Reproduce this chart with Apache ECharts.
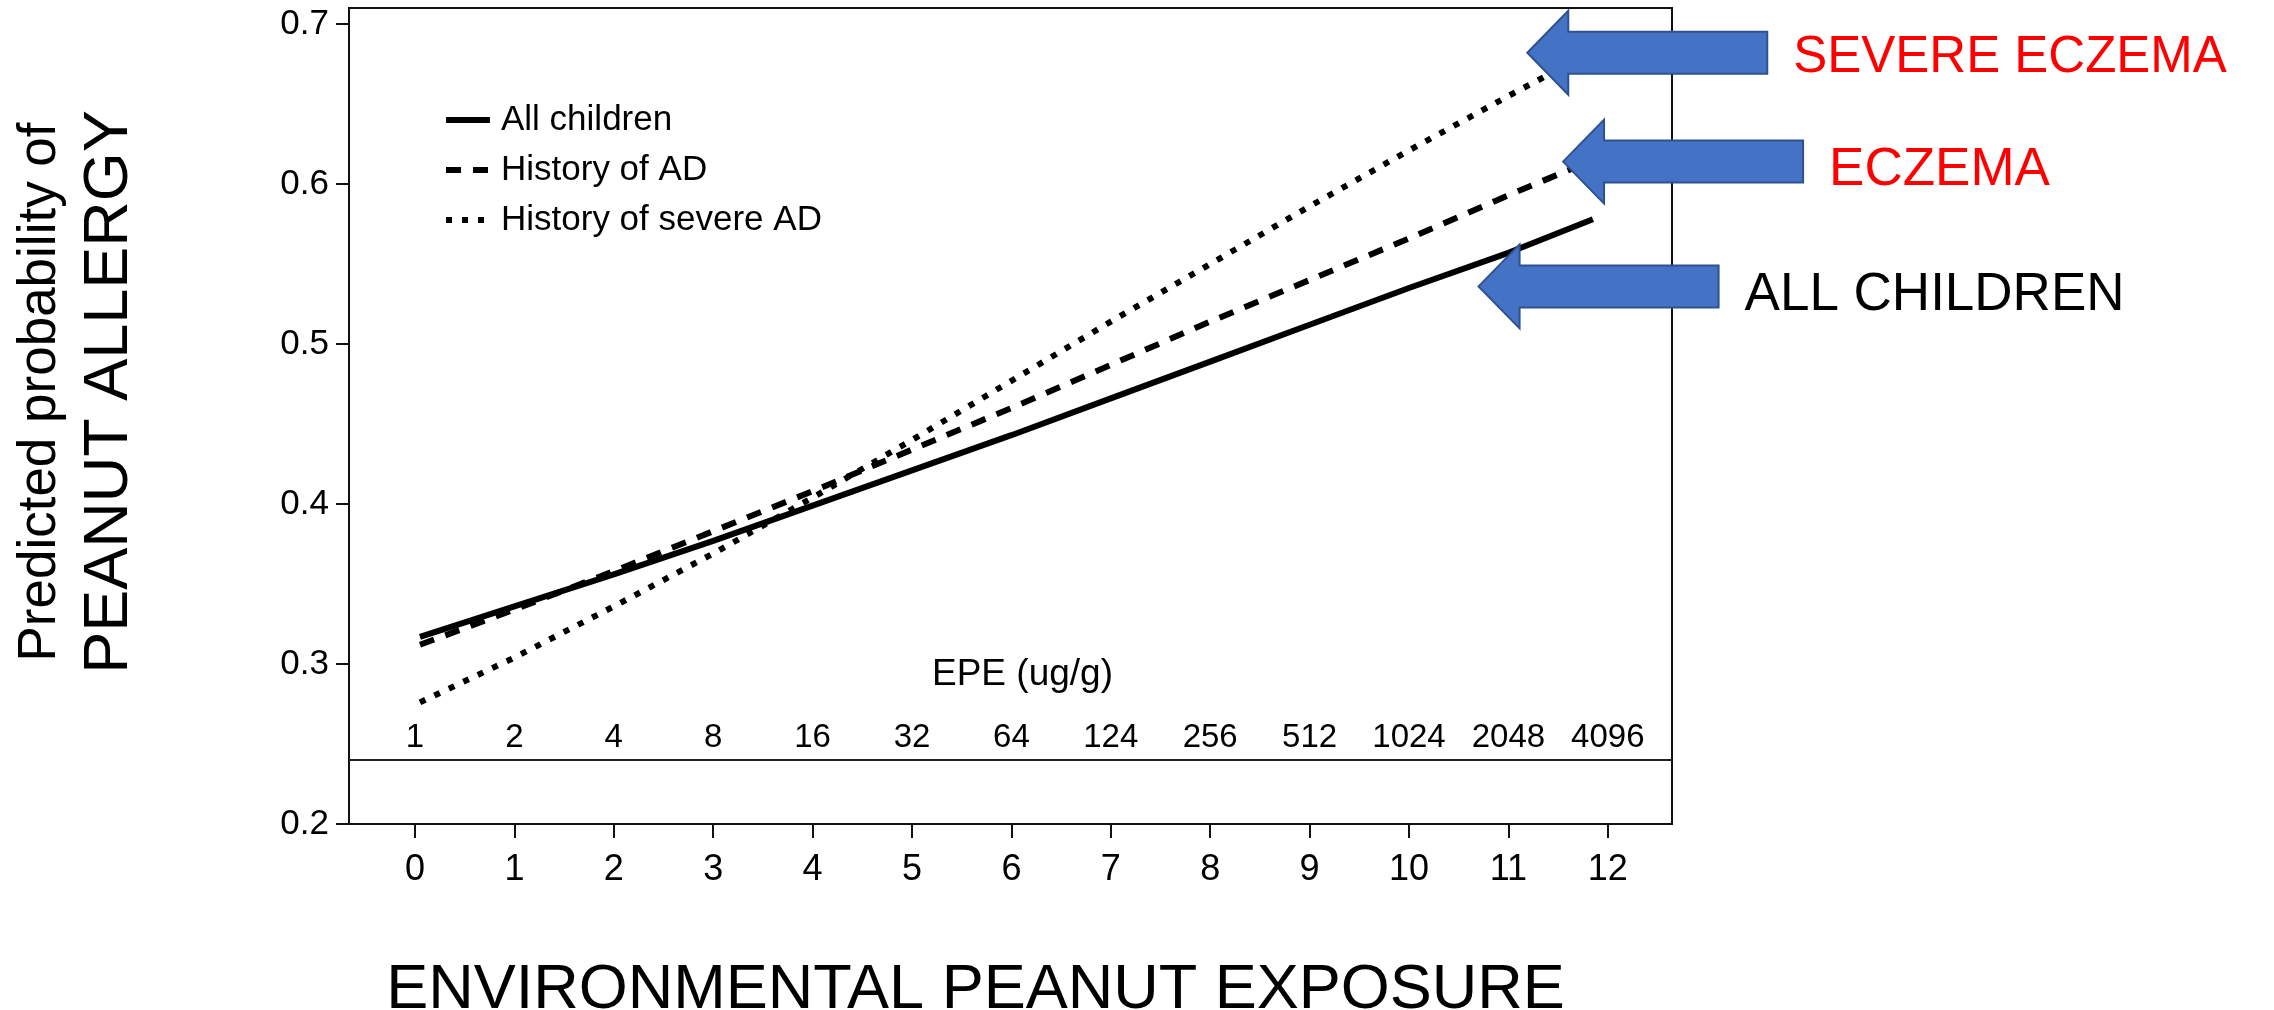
<!DOCTYPE html>
<html><head><meta charset="utf-8">
<script src="https://cdn.jsdelivr.net/npm/echarts@6/dist/echarts.min.js"></script>
<style>html,body{margin:0;padding:0;background:#fff}#c{width:2274px;height:1010px}</style>
</head><body><div id="c"></div>
<script>
// ---- data ----
const exposure = [0.05, 1, 2, 3, 4, 5, 6, 7, 8, 9, 10, 11, 11.85];
const allChildren = [0.317, 0.336, 0.356, 0.377, 0.399, 0.421, 0.443, 0.466, 0.489, 0.512, 0.535, 0.557, 0.578];
const historyAD  = [0.312, 0.334, 0.358, 0.383, 0.408, 0.434, 0.460, 0.487, 0.514, 0.540, 0.566, 0.593, 0.615];
const severeAD   = [0.276, 0.304, 0.336, 0.369, 0.404, 0.440, 0.477, 0.514, 0.550, 0.586, 0.621, 0.655, 0.683];
const xTicks = [0, 1, 2, 3, 4, 5, 6, 7, 8, 9, 10, 11, 12];
const epeLabels = ['1', '2', '4', '8', '16', '32', '64', '124', '256', '512', '1024', '2048', '4096'];
const yTicks = [0.2, 0.3, 0.4, 0.5, 0.6, 0.7];
const seriesNames = ['All children', 'History of AD', 'History of severe AD'];
const calloutLabels = ['SEVERE ECZEMA', 'ECZEMA', 'ALL CHILDREN'];
const calloutColors = ['#FF0000', '#FF0000', '#000000'];
const calloutTips = [[11.19, 0.682], [11.55, 0.614], [10.70, 0.536]];

const FONT = '"Liberation Sans", Arial, sans-serif';
function hasFont(name) {
  const ctx = document.createElement('canvas').getContext('2d');
  ctx.font = '40px "' + name + '", monospace';
  const a = ctx.measureText('All children 0123').width;
  ctx.font = '40px monospace';
  const b = ctx.measureText('All children 0123').width;
  return Math.abs(a - b) > 0.5;
}
const narrowOK = hasFont('Liberation Sans Narrow');
const NARROW = narrowOK ? '"Liberation Sans Narrow", "Liberation Sans", sans-serif' : FONT;
const legendSize = narrowOK ? 41 : 35;
const epeSize = narrowOK ? 37 : 33;

const pairs = ys => exposure.map((x, i) => [x, ys[i]]);

const chart = echarts.init(document.getElementById('c'), null, {renderer: 'canvas'});
const option = {
  backgroundColor: '#fff',
  animation: false,
  grid: {left: 349, top: 8, right: 602, bottom: 186, containLabel: false, outerBoundsMode: 'none',
    show: true, borderColor: '#111', borderWidth: 2, backgroundColor: 'transparent'},
  legend: {
    orient: 'vertical', left: 438, top: 117 - legendSize / 2 - 2, itemWidth: 44, itemHeight: 14,
    itemGap: 50 - legendSize,
    data: seriesNames,
    itemStyle: {opacity: 0},
    lineStyle: {width: 6, color: '#000'},
    textStyle: {fontFamily: NARROW, fontSize: legendSize, color: '#000', padding: [0, 0, 0, 6]}
  },
  xAxis: [{
    type: 'value', min: -0.664, max: 12.646,
    name: 'ENVIRONMENTAL PEANUT EXPOSURE', nameLocation: 'middle', nameGap: 135,
    nameTextStyle: {fontFamily: FONT, fontSize: 63, color: '#000', padding: [0, 70, 0, 0]},
    axisLine: {show: true, onZero: false, lineStyle: {color: '#111', width: 2}},
    axisTick: {show: true, length: 14, lineStyle: {color: '#111', width: 2}, customValues: xTicks},
    axisLabel: {fontFamily: FONT, fontSize: 36, color: '#000', margin: 28, customValues: xTicks},
    splitLine: {show: false}
  }, {
    type: 'value', min: -0.664, max: 12.646, position: 'bottom',
    name: 'EPE (ug/g)', nameLocation: 'middle', nameGap: -168,
    nameTextStyle: {fontFamily: FONT, fontSize: 37, color: '#000', padding: [0, 0, 0, 24]},
    axisLine: {show: false, onZero: false}, axisTick: {show: false}, splitLine: {show: false},
    axisLabel: {inside: true, margin: 70, fontFamily: NARROW, fontSize: epeSize, color: '#000',
      customValues: xTicks, formatter: v => epeLabels[Math.round(v)] || ''}
  }],
  yAxis: {
    type: 'value', min: 0.2, max: 0.71,
    axisLine: {show: true, onZero: false, lineStyle: {color: '#111', width: 2}},
    axisTick: {show: true, length: 13, lineStyle: {color: '#111', width: 2}, customValues: yTicks},
    axisLabel: {fontFamily: FONT, fontSize: 35, color: '#000', margin: 20, customValues: yTicks,
      formatter: v => v.toFixed(1)},
    splitLine: {show: false}
  },
  series: [{
    name: seriesNames[2], type: 'line', data: pairs(severeAD), showSymbol: false, symbol: 'none',
    color: '#000',
    lineStyle: {color: '#000', width: 6, type: [6, 10], cap: 'butt'}, z: 3,
    markLine: {silent: true, symbol: ['none', 'none'], label: {show: false},
      lineStyle: {color: '#222', type: 'solid', width: 2}, data: [{yAxis: 0.24}]}
  }, {
    name: seriesNames[1], type: 'line', data: pairs(historyAD), showSymbol: false, symbol: 'none',
    color: '#000',
    lineStyle: {color: '#000', width: 6, type: [15, 12], cap: 'butt'}, z: 4
  }, {
    name: seriesNames[0], type: 'line', data: pairs(allChildren), showSymbol: false, symbol: 'none',
    color: '#000',
    lineStyle: {color: '#000', width: 6, type: 'solid', cap: 'butt'}, z: 5
  }]
};
chart.setOption(option);

// ---- titles and callout arrows ----
const graphics = [
  {type: 'text', x: 40, y: 392, rotation: Math.PI / 2, z: 10,
   style: {text: 'Predicted probability of', font: '53px ' + FONT, fill: '#000',
     align: 'center', verticalAlign: 'middle', textAlign: 'center', textVerticalAlign: 'middle'}},
  {type: 'text', x: 110, y: 392, rotation: Math.PI / 2, z: 10,
   style: {text: 'PEANUT ALLERGY', font: '63px ' + FONT, fill: '#000',
     align: 'center', verticalAlign: 'middle', textAlign: 'center', textVerticalAlign: 'middle'}}
];
calloutTips.forEach((tip, i) => {
  const p = chart.convertToPixel({xAxisIndex: 0, yAxisIndex: 0}, tip);
  const tx = p[0], ty = p[1];
  graphics.push({
    type: 'polygon', z: 20,
    shape: {points: [[tx, ty], [tx + 41, ty - 42], [tx + 41, ty - 21], [tx + 240, ty - 21],
                     [tx + 240, ty + 21], [tx + 41, ty + 21], [tx + 41, ty + 42]]},
    style: {fill: '#4472C4', stroke: '#2F528F', lineWidth: 2}
  });
  graphics.push({
    type: 'text', x: tx + 266, y: ty + (i === 0 ? 5 : 9), z: 20,
    style: {text: calloutLabels[i], font: (i === 0 ? '51px ' : '53px ') + FONT, fill: calloutColors[i],
      align: 'left', verticalAlign: 'middle', textAlign: 'left', textVerticalAlign: 'middle'}
  });
});
chart.setOption({graphic: graphics});
</script>
</body></html>
